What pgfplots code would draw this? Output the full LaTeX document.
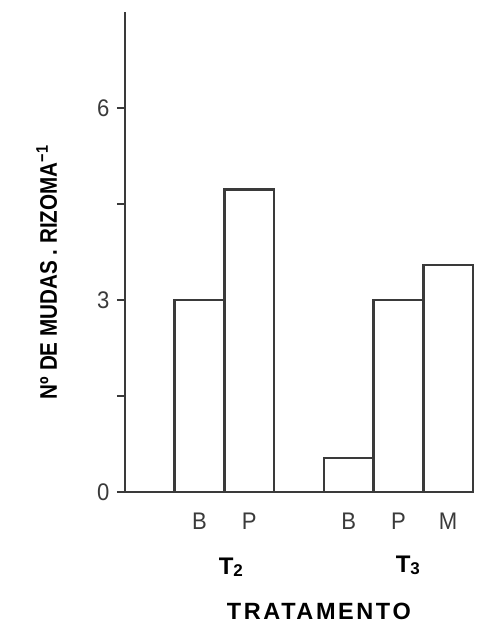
\documentclass[border=0pt]{standalone}
\usepackage{fontspec}
\setmainfont{Liberation Sans}
\usepackage{pgfplots}
\pgfplotsset{compat=1.18}
\definecolor{ink}{HTML}{3A3A3A}
\begin{document}
\begin{tikzpicture}
\useasboundingbox (0pt,0pt) rectangle (479pt,-627pt);
\begin{axis}[
  at={(125pt,-492pt)}, anchor=south west,
  scale only axis, width=348pt, height=480pt,
  xmin=0, xmax=7, ymin=0, ymax=7.5,
  axis lines=left,
  axis line style={-, line width=2pt, draw=ink},
  clip=false,
  ytick={0,3,6}, minor ytick={1.5,4.5},
  tick align=outside,
  major tick length=8pt, minor tick length=8pt,
  y tick style={line width=2pt, draw=ink},
  xtick={1.5,2.5,4.5,5.5,6.5},
  xticklabels={B,P,B,P,M},
  x tick style={draw=none},
  /pgf/number format/assume math mode=true,
  tick label style={font=\fontsize{24}{28}\selectfont\addfontfeature{FakeStretch=0.92}, text=ink},
  xticklabel style={yshift=-9pt},
  yticklabel style={xshift=-4pt},
  ylabel={Nº DE MUDAS . RIZOMA\textsuperscript{−1}},
  ylabel style={at={(axis description cs:-0.225,0.458)}, anchor=center, font=\bfseries\fontsize{24}{28}\selectfont\addfontfeature{FakeStretch=0.86}, text=black},
]
\addplot[ybar, bar width=1, draw=ink, fill=white, line width=2.5pt]
  coordinates {(1.5,3.0) (2.5,4.73) (4.5,0.53) (5.5,3.0) (6.5,3.55)};
\node[font=\bfseries\fontsize{24}{28}\selectfont, text=black] at (axis cs:2.13,-1.18) {T\raisebox{-2pt}{\fontsize{17}{20}\selectfont 2}};
\node[font=\bfseries\fontsize{24}{28}\selectfont, text=black] at (axis cs:5.69,-1.15) {T\raisebox{-2pt}{\fontsize{17}{20}\selectfont 3}};
\node[font=\bfseries\fontsize{23.5}{27}\selectfont, text=black] at (axis cs:3.9,-1.87) {\addfontfeature{LetterSpace=11}TRATAMENTO};
\end{axis}
\end{tikzpicture}
\end{document}
